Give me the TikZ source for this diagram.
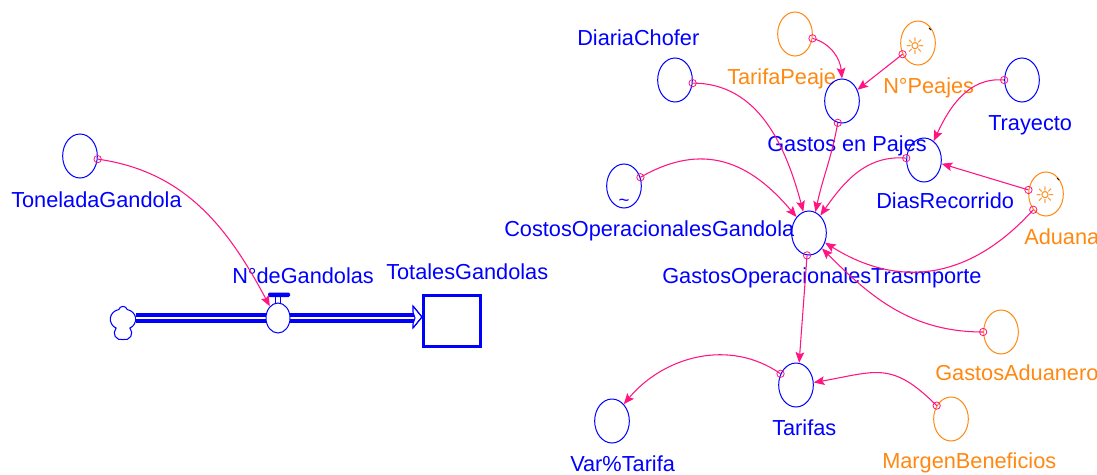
\documentclass[tikz,border=0pt]{standalone}
\usepackage{fontspec}
\setmainfont{Liberation Sans}
\newfontfamily\symfont{DejaVu Sans}
\usetikzlibrary{arrows.meta,shapes.geometric,shapes.symbols}
\definecolor{vblue}{RGB}{0,0,255}
\definecolor{vorange}{RGB}{255,136,17}
\definecolor{vpink}{RGB}{255,20,130}
\begin{document}
\begin{tikzpicture}[x=0.75pt,y=0.75pt,
  aux/.style={ellipse,draw=vblue,line width=0.75pt,minimum width=26pt,minimum height=33pt,inner sep=0pt},
  auxo/.style={aux,draw=vorange},
  lbl/.style={anchor=base west,inner sep=0pt,text=vblue,font=\fontsize{16.3}{19}\selectfont},
  lblo/.style={lbl,text=vorange},
  link/.style={draw=vpink,line width=0.8pt,-{Stealth[length=8pt,width=6.5pt,inset=1.5pt]}},
  src/.style={circle,draw=vpink,line width=0.6pt,minimum size=5.5pt,inner sep=0pt},
  sun/.style={text=vorange,inner sep=0pt,font=\fontsize{17}{17}\selectfont\symfont},
]
\useasboundingbox (0,0) rectangle (1097,-475);

% ---------- stock and flow ----------
\node[cloud,cloud puffs=5,aspect=0.8,draw=vblue,line width=0.8pt,minimum width=20pt,minimum height=25pt,inner sep=0pt] (cloud) at (123,-323) {};
\node[draw=vblue,line width=2.2pt,minimum width=42.75pt,minimum height=38.25pt,inner sep=0pt] (stock) at (452,-321) {};
\coordinate (p1) at (cloud.east |- 0,-318);
\coordinate (p2) at (415,-318);
\draw[vblue,line width=2.4pt,double=white,double distance=2pt] (p1) -- (p2);
\draw[vblue,line width=0.8pt,fill=white] (413,-306) -- (422,-317) -- (413,-328) -- (413,-324) -- (p2) -- (413,-312) -- cycle;
\draw[vblue,line width=0.8pt] (413,-306) -- (422,-317) -- (413,-328);
\node[ellipse,draw=vblue,fill=white,line width=0.75pt,minimum width=18pt,minimum height=22.5pt,inner sep=0pt] (valve) at (278,-318) {};
\draw[vblue,line width=0.7pt] ([xshift=-1.8pt]valve.north) -- ++(0,5.5) ([xshift=1.8pt]valve.north) -- ++(0,5.5);
\fill[vblue,rounded corners=1pt] (268,-292.5) rectangle (290,-297);

\node[lbl] (lstock) at (386,-279) {TotalesGandolas};
\node[lbl] (lvalve) at (232,-283) {N°deGandolas};

\node[aux] (tg) at (80,-156) {};
\node[lbl] (ltg) at (11,-207) {ToneladaGandola};

% ---------- auxiliaries ----------
\node[aux] (dc) at (675,-80) {};
\node[lbl] (ldc) at (577,-45) {DiariaChofer};
\node[auxo] (tp) at (795,-34) {};
\node[lblo] (ltp) at (727,-84) {TarifaPeaje};
\node[auxo] (np) at (918,-43) {};
\node[sun] (snp) at (915,-46) {☼};
\draw[black,line width=0.6pt] (929,-28) -- (931,-30);
\node[lblo] (lnp) at (883,-93) {N°Peajes};
\node[aux] (gp) at (842,-101) {};
\node[lbl] (lgp) at (767,-151) {Gastos en Pajes};
\node[aux] (tr) at (1022,-80) {};
\node[lbl] (ltr) at (988,-130) {Trayecto};
\node[aux] (dr) at (924,-160) {};
\node[lbl] (ldr) at (876,-208) {DiasRecorrido};
\node[auxo] (ad) at (1046,-194) {};
\node[sun] (sad) at (1045,-195) {☼};
\draw[black,line width=0.6pt] (1057,-178) -- (1059,-180);
\node[lblo] (lad) at (1024,-244) {Aduana};
\node[aux] (cg) at (624,-186) {};
\node[text=vblue,inner sep=0pt,font=\fontsize{14}{14}\selectfont] (tcg) at (624,-203) {\textasciitilde};
\node[lbl] (lcg) at (504,-236) {CostosOperacionalesGandola};
\node[aux] (go) at (809,-233) {};
\node[lbl] (lgo) at (662,-283) {GastosOperacionalesTrasmporte};
\node[auxo] (ga) at (1001,-332) {};
\node[lblo] (lga) at (935,-380) {GastosAduanero};
\node[aux] (ta) at (796,-385) {};
\node[lbl] (lta) at (772,-435) {Tarifas};
\node[aux] (vt) at (612,-421) {};
\node[lbl] (lvt) at (570,-471) {Var\%Tarifa};
\node[auxo] (mb) at (951,-419) {};
\node[lblo] (lmb) at (882,-468) {MargenBeneficios};

% ---------- connectors ----------
\draw[link] (tg.-10) node[src]{} to[out=-8,in=118] (valve.125);
\draw[link] (cg.28) node[src]{} to[out=30,in=130,looseness=1.15] (go.128);
\draw[link] (dc.-10) node[src]{} to[out=0,in=105] (go.105);
\draw[link] (gp.-101) node[src]{} to[out=-100,in=78] (go.73);
\draw[link] (dr.174) node[src]{} to[out=175,in=55] (go.57);
\draw[link] (ad.-129) node[src]{} to[out=-132,in=-32,looseness=1.1] (go.-31);
\draw[link] (ga.180) node[src]{} to[out=180,in=-45] (go.-50);
\draw[link] (go.-95) node[src]{} -- (ta.82);
\draw[link] (tp.-14) node[src]{} to[out=-15,in=95] (gp.90);
\draw[link] (np.-144) node[src]{} -- (gp.36);
\draw[link] (tr.180) node[src]{} to[out=175,in=65] (dr.63);
\draw[link] (ad.167) node[src]{} -- (dr.-12);
\draw[link] (ta.144) node[src]{} to[out=145,in=50] (vt.55);
\draw[link] (mb.137) node[src]{} to[out=135,in=10,looseness=1.3] (ta.8);
\end{tikzpicture}
\end{document}
